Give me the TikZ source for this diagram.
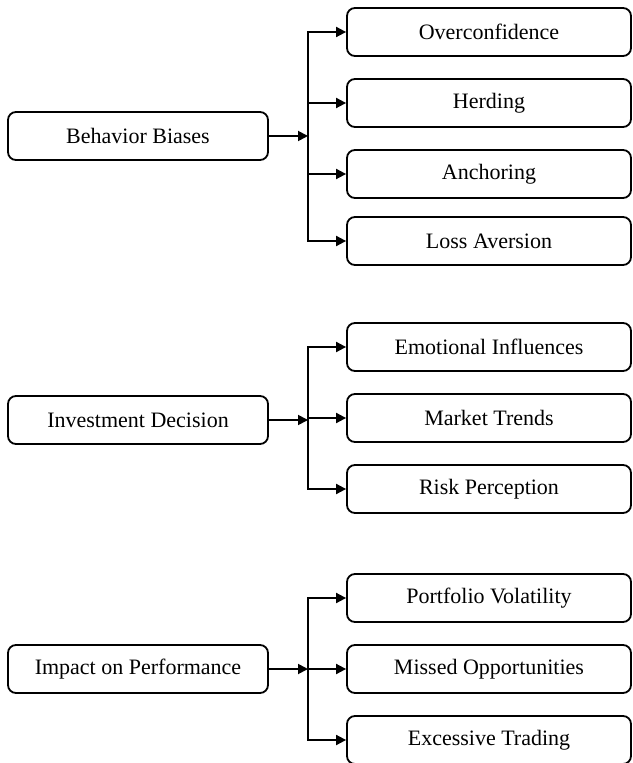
\documentclass[tikz,border=0pt]{standalone}
\usepackage{fontspec}
\setmainfont{Liberation Serif}
\usepackage{tikz}
\usetikzlibrary{arrows.meta,positioning}

\begin{document}
\begin{tikzpicture}[
  x=0.5pt,y=-0.5pt,
  box/.style={draw,rounded corners=4pt,fill=white,font=\fontsize{11}{13}\selectfont,minimum height=24pt,inner sep=2pt,line width=0.9pt},
  root/.style={box,minimum width=130pt},
  leaf/.style={box,minimum width=142pt},
  >={Triangle[length=5pt,width=5pt]},line width=0.9pt
]
\useasboundingbox (0,0) rectangle (632,763);
% group 1
\node[root] (BB) at (138,136) {Behavior Biases};
\node[leaf] (OC) at (489,32)  {Overconfidence};
\node[leaf] (HD) at (489,103) {Herding};
\node[leaf] (AN) at (489,174) {Anchoring};
\node[leaf] (LA) at (489,241) {Loss Aversion};
\coordinate (J1) at (308,136);
\draw[->] (BB) -- (J1);
\draw[->] (J1) |- (OC); \draw[->] (J1) |- (HD);
\draw[->] (J1) |- (AN); \draw[->] (J1) |- (LA);
% group 2
\node[root] (ID) at (138,420) {Investment Decision};
\node[leaf] (EI) at (489,347) {Emotional Influences};
\node[leaf] (MT) at (489,418) {Market Trends};
\node[leaf] (RP) at (489,489) {Risk Perception};
\coordinate (J2) at (308,418);
\draw[->] (ID.east) -- (ID.east -| J2);
\draw[->] (J2) |- (EI); \draw[->] (J2) -- (MT); \draw[->] (J2) |- (RP);
% group 3
\node[root] (IP) at (138,669) {Impact on Performance};
\node[leaf] (PV) at (489,598) {Portfolio Volatility};
\node[leaf] (MO) at (489,669) {Missed Opportunities};
\node[leaf] (ET) at (489,740) {Excessive Trading};
\coordinate (J3) at (308,669);
\draw[->] (IP) -- (J3);
\draw[->] (J3) |- (PV); \draw[->] (J3) -- (MO); \draw[->] (J3) |- (ET);
\end{tikzpicture}
\end{document}
